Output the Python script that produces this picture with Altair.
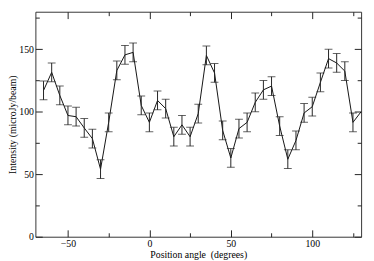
import altair as alt
import pandas as pd

# Data
angles = [-65, -60, -55, -50, -45, -40, -35, -30, -25, -20, -15, -10, -5, 0, 5, 10,
          15, 20, 25, 30, 35, 40, 45, 50, 55, 60, 65, 70, 75, 80, 85, 90, 95, 100,
          105, 110, 115, 120, 125, 130]
intensity = [117, 131.5, 113, 97, 96, 87, 78.5, 54, 91.5, 133, 145.5, 147.5, 105, 91.5,
             109, 102.5, 80, 89.5, 80, 98.5, 145, 131, 85, 63, 86.5, 91.5, 107.5, 117.5,
             120.5, 88.5, 62, 77, 99, 104, 123.5, 142.5, 139, 132.5, 91.5, 100]
# half-widths of the error bars (the last point's bar sits on the frame and is not drawn)
errors = [7.5] * 39

x_major = [-50, 0, 50, 100]
x_minor = [-25, 25, 75, 125]
y_major = [0, 50, 100, 150]
y_minor = [25, 75, 125, 175]

x_title = "Position angle\u00a0 (degrees)"
y_title = "Intensity (microJy/beam)"

df = pd.DataFrame({"angle": angles, "intensity": intensity})
dfe = pd.DataFrame({"angle": angles[:len(errors)],
                    "lo": [v - e for v, e in zip(intensity, errors)],
                    "hi": [v + e for v, e in zip(intensity, errors)]})

FONT = "Liberation Serif"
xs = alt.Scale(domain=[-70, 130], nice=False, zero=False)
ys = alt.Scale(domain=[0, 180], nice=False, zero=False)

def xaxis(orient, values, size, labels=False, title=None):
    kw = dict(orient=orient, values=values, tickSize=size, offset=-size, domain=False,
              grid=False, labels=labels, tickColor="#222", tickWidth=1)
    if labels:
        kw.update(labelFont=FONT, labelFontSize=10, labelColor="black", labelPadding=2)
    if title:
        kw.update(title=title, titleFont=FONT, titleFontSize=10, titleFontWeight="normal",
                  titleColor="black", titlePadding=1)
    else:
        kw.update(title=None)
    return alt.Axis(**kw)

line = alt.Chart(df).mark_line(color="#111", strokeWidth=1, clip=True).encode(
    x=alt.X("angle:Q", scale=xs, axis=xaxis("bottom", x_major, 7, True, x_title)),
    y=alt.Y("intensity:Q", scale=ys, axis=xaxis("left", y_major, 7, True, y_title)),
)

bars = alt.Chart(dfe).mark_rule(color="#222", strokeWidth=1, clip=True).encode(
    x=alt.X("angle:Q", scale=xs, axis=xaxis("bottom", x_minor, 4)),
    y=alt.Y("lo:Q", scale=ys, axis=xaxis("left", y_minor, 4)),
    y2="hi:Q",
)
caps_lo = alt.Chart(dfe).mark_tick(color="#222", orient="horizontal", size=8, thickness=1, clip=True).encode(
    x=alt.X("angle:Q", scale=xs, axis=xaxis("top", x_major, 7)),
    y=alt.Y("lo:Q", scale=ys, axis=xaxis("right", y_major, 7)),
)
caps_hi = alt.Chart(dfe).mark_tick(color="#222", orient="horizontal", size=8, thickness=1, clip=True).encode(
    x=alt.X("angle:Q", scale=xs, axis=xaxis("top", x_minor, 4)),
    y=alt.Y("hi:Q", scale=ys, axis=xaxis("right", y_minor, 4)),
)

chart = alt.layer(line, bars, caps_lo, caps_hi).resolve_axis(
    x="independent", y="independent"
).properties(
    width=333, height=230,
    autosize=alt.AutoSizeParams(type="none"),
    padding={"left": 28, "top": 1, "right": 5, "bottom": 22},
    background="white",
).configure_view(stroke="#333", strokeWidth=1)

chart.save("out.html", embed_options={"renderer": "svg", "actions": False})
